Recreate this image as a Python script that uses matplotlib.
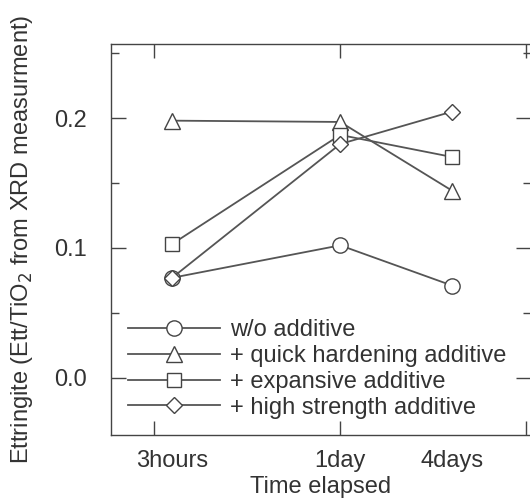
import numpy as np
import matplotlib.pyplot as plt

plt.rcParams['font.family'] = ['Liberation Sans', 'DejaVu Sans']

# time in days (3 hours, 1 day, 4 days)
times = [0.125, 1.0, 4.0]
time_labels = ['3hours', '1day', '4days']

series_names = ['w/o additive', '+ quick hardening additive',
                '+ expansive additive', '+ high strength additive']
wo_additive = [0.077, 0.102, 0.071]
quick_hardening = [0.198, 0.197, 0.144]
expansive = [0.103, 0.187, 0.170]
high_strength = [0.077, 0.180, 0.205]

markers = ['o', '^', 's', 'D']
msizes = [11, 11, 10.5, 8]

ink = '#444444'
txt = '#333333'
fs = 17

fig = plt.figure(figsize=(5.30, 4.99), dpi=100)
ax = fig.add_axes([0.2094, 0.1283, 0.7926, 0.7835])

for vals, name, m, ms in zip([wo_additive, quick_hardening, expansive, high_strength],
                             series_names, markers, msizes):
    ax.plot(times, vals, color='#555555', lw=1.3, marker=m, ms=ms,
            mfc='white', mec=ink, mew=1.0, label=name)

ax.set_xscale('log')
ax.set_xlim(0.0587, 10.6)
ax.set_ylim(-0.044, 0.257)

# major ticks at decades without labels, labels at the data times
ax.xaxis.remove_overlapping_locs = False
ax.set_xticks([0.1, 1, 10])
ax.set_xticklabels(['', '', ''])
ax.set_xticks(times, minor=True)
ax.set_xticklabels(time_labels, minor=True)
ax.tick_params(axis='x', which='major', direction='in', length=10, width=1,
               color=ink, top=True, bottom=True)
ax.tick_params(axis='x', which='minor', length=0, pad=11, labelsize=fs,
               labelcolor=txt)

ax.set_yticks([0.0, 0.1, 0.2])
ax.set_yticklabels(['0.0', '0.1', '0.2'])
ax.set_yticks([0.05, 0.15, 0.25], minor=True)
ax.tick_params(axis='y', which='major', direction='in', length=11, width=1,
               color=ink, left=True, right=True, labelsize=fs, labelcolor=txt,
               pad=17)
ax.tick_params(axis='y', which='minor', direction='in', length=6, width=1,
               color=ink, left=True, right=True)

for s in ax.spines.values():
    s.set_color(ink)
    s.set_linewidth(1.0)

ax.set_xlabel('Time elapsed', fontsize=fs, color=txt, labelpad=3)
ax.set_ylabel('Ettringite (Ett/TiO$_2$ from XRD measurment)', fontsize=fs,
              color=txt, labelpad=14)

leg = ax.legend(loc='lower left', bbox_to_anchor=(0.04, 0.042), frameon=False,
                fontsize=fs, handlelength=3.9, handletextpad=0.42,
                labelspacing=0.16, borderaxespad=0, borderpad=0)
for t in leg.get_texts():
    t.set_color(txt)

fig.savefig('out.png', dpi=100)
